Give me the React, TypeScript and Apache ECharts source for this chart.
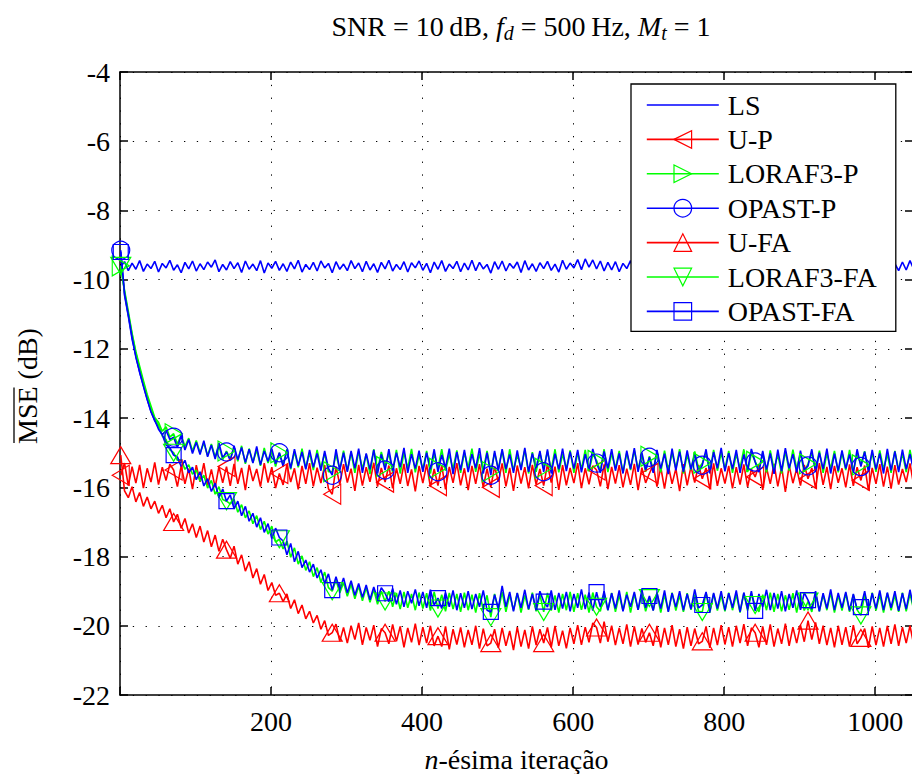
import React, { useEffect, useRef } from "react";
import * as echarts from "echarts";

// iteration index of the i-th stored sample: ITER_START + ITER_STEP * i
const ITER_START = 1;
const ITER_STEP = 5;
const MARKER_EVERY = 14; // a marker every 70 iterations
const X_TICKS_MAX_LABEL = 1000;

const LS = [
  -9.62, -9.48, -9.74, -9.52, -9.70, -9.45, -9.76, -9.55, -9.68, -9.47,
  -9.78, -9.53, -9.66, -9.44, -9.73, -9.57, -9.80, -9.50, -9.69, -9.46,
  -9.75, -9.54, -9.71, -9.49, -9.64, -9.43, -9.77, -9.56, -9.72, -9.48,
  -9.68, -9.51, -9.79, -9.46, -9.70, -9.55, -9.74, -9.45, -9.81, -9.52,
  -9.67, -9.47, -9.73, -9.54, -9.76, -9.49, -9.69, -9.44, -9.78, -9.56,
  -9.71, -9.50, -9.75, -9.46, -9.66, -9.53, -9.80, -9.48, -9.70, -9.55,
  -9.74, -9.45, -9.68, -9.52, -9.77, -9.47, -9.72, -9.54, -9.79, -9.50,
  -9.69, -9.44, -9.75, -9.56, -9.71, -9.48, -9.78, -9.51, -9.66, -9.46,
  -9.73, -9.53, -9.80, -9.49, -9.70, -9.45, -9.76, -9.55, -9.68, -9.47,
  -9.77, -9.52, -9.72, -9.44, -9.74, -9.50, -9.69, -9.56, -9.81, -9.48,
  -9.70, -9.46, -9.75, -9.53, -9.67, -9.49, -9.79, -9.45, -9.72, -9.54,
  -9.76, -9.51, -9.68, -9.47, -9.73, -9.55, -9.78, -9.44, -9.70, -9.52,
  -9.66, -9.42, -9.71, -9.40, -9.64, -9.43, -9.69, -9.46, -9.75, -9.50,
  -9.72, -9.48, -9.77, -9.53, -9.68, -9.45, -9.80, -9.51, -9.71, -9.47,
  -9.74, -9.55, -9.69, -9.46, -9.78, -9.50, -9.73, -9.44, -9.67, -9.53,
  -9.79, -9.49, -9.72, -9.45, -9.75, -9.54, -9.70, -9.47, -9.76, -9.52,
  -9.68, -9.44, -9.81, -9.50, -9.73, -9.48, -9.69, -9.55, -9.77, -9.46,
  -9.71, -9.53, -9.75, -9.45, -9.70, -9.51, -9.78, -9.47, -9.66, -9.54,
  -9.74, -9.49, -9.79, -9.46, -9.72, -9.52, -9.68, -9.44, -9.76, -9.50,
  -9.70, -9.55, -9.73, -9.47, -9.80, -9.51, -9.69, -9.45, -9.75, -9.53,
  -9.71, -9.48, -9.77, -9.46, -9.68, -9.54, -9.74, -9.49, -9.72, -9.45, -9.70,
];

const U_P = [
  -15.65, -15.30, -15.95, -15.40, -15.88, -15.35, -16.02, -15.45, -15.85, -15.28,
  -15.92, -15.42, -15.80, -15.33, -15.50, -15.98, -15.38, -15.90, -15.46, -16.05,
  -15.36, -15.84, -15.30, -15.95, -15.48, -16.00, -15.40, -15.87, -15.40, -15.96,
  -15.32, -15.90, -15.44, -16.08, -15.35, -15.82, -15.47, -15.98, -15.30, -15.86,
  -15.42, -16.02, -15.60, -15.93, -15.34, -15.85, -15.45, -16.06, -15.38, -15.90,
  -15.30, -15.97, -15.43, -15.88, -15.36, -16.04, -16.20, -15.40, -15.92, -15.33,
  -15.86, -15.46, -16.10, -15.35, -15.95, -15.42, -15.84, -15.29, -15.98, -15.44,
  -15.85, -15.37, -16.03, -15.45, -15.90, -15.32, -15.96, -15.48, -16.12, -15.38,
  -15.88, -15.34, -15.99, -15.47, -15.95, -15.36, -16.06, -15.41, -15.87, -15.30,
  -15.94, -15.45, -16.08, -15.38, -15.90, -15.33, -16.00, -15.46, -16.00, -15.40,
  -15.84, -15.31, -15.97, -15.44, -16.10, -15.37, -15.89, -15.42, -16.03, -15.35,
  -15.92, -15.47, -15.95, -15.33, -15.86, -15.40, -16.07, -15.36, -15.94, -15.44,
  -15.88, -15.30, -16.02, -15.45, -15.91, -15.38, -15.50, -15.97, -15.34, -16.05,
  -15.41, -15.89, -15.36, -16.00, -15.46, -15.93, -15.32, -16.08, -15.43, -15.87,
  -15.60, -15.35, -15.98, -15.42, -16.04, -15.37, -15.90, -15.46, -16.11, -15.33,
  -15.94, -15.40, -15.86, -15.35, -15.75, -15.44, -16.06, -15.31, -15.96, -15.45,
  -15.89, -15.38, -16.03, -15.42, -15.92, -15.34, -15.99, -15.47, -15.70, -15.36,
  -16.07, -15.43, -15.90, -15.32, -15.97, -15.40, -16.13, -15.37, -15.88, -15.46,
  -15.95, -15.35, -15.75, -15.44, -16.02, -15.30, -15.93, -15.41, -16.05, -15.38,
  -15.87, -15.45, -16.00, -15.34, -15.96, -15.42, -15.80, -15.37, -16.09, -15.44,
  -15.90, -15.33, -15.98, -15.40, -16.04, -15.36, -15.92, -15.47, -15.85, -15.31, -15.95,
];

const LORAF3_P = [
  -9.60, -10.30, -10.92, -11.55, -12.08, -12.50, -12.92, -13.32, -13.65, -13.98,
  -14.12, -14.38, -14.25, -14.55, -14.45, -14.75, -14.48, -14.82, -14.58, -14.95,
  -14.65, -15.00, -14.72, -15.08, -14.75, -15.12, -14.80, -15.20, -14.95, -15.18,
  -14.85, -15.25, -14.80, -15.32, -14.88, -15.28, -14.92, -15.38, -14.86, -15.30,
  -14.95, -15.40, -15.00, -15.35, -14.90, -15.48, -14.96, -15.42, -14.88, -15.45,
  -15.00, -15.50, -14.92, -15.45, -15.02, -15.55, -15.55, -15.05, -15.48, -14.94,
  -15.52, -15.00, -15.58, -14.96, -15.46, -15.04, -15.62, -14.90, -15.50, -14.98,
  -15.40, -15.02, -15.55, -14.92, -15.60, -15.00, -15.45, -14.89, -15.57, -15.06,
  -15.48, -14.95, -15.60, -15.02, -15.45, -14.90, -15.52, -15.05, -15.47, -14.93,
  -15.58, -15.00, -15.44, -14.88, -15.55, -15.04, -15.50, -14.95, -15.55, -15.01,
  -15.46, -14.94, -15.58, -14.90, -15.52, -15.06, -15.45, -14.92, -15.60, -14.98,
  -15.55, -15.02, -15.45, -14.96, -15.50, -14.90, -15.57, -15.04, -15.46, -14.93,
  -15.58, -15.00, -15.48, -14.92, -15.54, -15.05, -15.22, -15.52, -14.90, -15.56,
  -15.02, -15.45, -14.95, -15.58, -15.00, -15.50, -14.93, -15.47, -15.06, -15.55,
  -15.10, -15.48, -15.03, -15.57, -14.94, -15.52, -15.00, -15.45, -14.90, -15.60,
  -15.05, -15.50, -14.96, -15.46, -15.30, -15.02, -15.55, -14.92, -15.52, -15.00,
  -15.47, -14.95, -15.58, -15.04, -15.45, -14.90, -15.56, -15.01, -15.25, -15.50,
  -15.00, -15.57, -14.93, -15.48, -15.05, -15.60, -14.96, -15.52, -14.91, -15.46,
  -15.03, -15.55, -15.32, -15.00, -15.50, -14.94, -15.58, -15.02, -15.46, -14.95,
  -15.57, -15.00, -15.50, -14.92, -15.54, -15.04, -15.35, -14.96, -15.48, -15.00,
  -15.55, -14.93, -15.47, -15.05, -15.58, -14.95, -15.50, -15.02, -15.56, -14.92, -15.48,
];

const OPAST_P = [
  -9.15, -10.45, -11.05, -11.72, -12.20, -12.68, -13.05, -13.45, -13.80, -14.08,
  -14.25, -14.48, -14.35, -14.62, -14.55, -14.85, -14.50, -14.92, -14.62, -15.02,
  -14.70, -15.05, -14.65, -15.12, -14.78, -15.18, -14.72, -15.15, -14.98, -15.22,
  -14.80, -15.20, -14.85, -15.28, -14.90, -15.30, -14.82, -15.35, -14.95, -15.25,
  -14.88, -15.32, -15.00, -15.40, -14.92, -15.45, -14.90, -15.38, -14.98, -15.48,
  -14.92, -15.42, -15.02, -15.52, -14.95, -15.45, -15.65, -14.90, -15.50, -15.00,
  -15.55, -14.95, -15.45, -14.88, -15.58, -15.02, -15.48, -14.92, -15.60, -15.05,
  -15.50, -14.90, -15.52, -15.00, -15.42, -14.86, -15.58, -15.04, -15.46, -14.94,
  -15.55, -15.00, -15.48, -14.90, -15.55, -15.06, -15.44, -14.88, -15.62, -14.98,
  -15.50, -14.92, -15.56, -15.04, -15.45, -14.87, -15.60, -15.00, -15.65, -14.95,
  -15.52, -14.90, -15.47, -15.05, -15.58, -14.93, -15.50, -14.86, -15.55, -15.02,
  -15.44, -14.95, -15.55, -14.90, -15.60, -15.03, -15.48, -14.88, -15.53, -14.97,
  -15.46, -14.92, -15.57, -15.04, -15.50, -14.89, -15.30, -15.58, -14.96, -15.45,
  -14.90, -15.52, -15.02, -15.60, -14.94, -15.47, -14.87, -15.55, -15.00, -15.50,
  -15.13, -15.58, -14.92, -15.46, -15.03, -15.62, -14.88, -15.51, -14.97, -15.55,
  -14.93, -15.48, -15.04, -15.57, -15.36, -14.90, -15.60, -14.98, -15.45, -14.86,
  -15.54, -15.01, -15.47, -14.92, -15.58, -15.05, -15.50, -14.89, -15.27, -15.56,
  -14.95, -15.49, -15.02, -15.61, -14.91, -15.53, -14.87, -15.45, -15.04, -15.57,
  -14.94, -15.50, -15.38, -14.90, -15.56, -15.00, -15.47, -14.88, -15.60, -15.03,
  -15.52, -14.93, -15.46, -15.05, -15.58, -14.90, -15.40, -14.97, -15.55, -14.92,
  -15.48, -15.02, -15.60, -14.89, -15.51, -14.96, -15.56, -14.91, -15.47, -15.04, -15.53,
];

const U_FA = [
  -15.07, -16.10, -16.30, -15.98, -16.42, -16.15, -16.55, -16.28, -16.62, -16.40,
  -16.75, -16.52, -16.88, -16.62, -17.00, -16.78, -17.18, -16.90, -17.32, -17.05,
  -17.45, -17.12, -17.58, -17.25, -17.72, -17.38, -17.85, -17.50, -17.80, -18.05,
  -17.70, -18.22, -17.95, -18.42, -18.15, -18.62, -18.35, -18.80, -18.52, -18.98,
  -18.75, -19.12, -19.06, -19.30, -19.08, -19.50, -19.25, -19.65, -19.40, -19.80,
  -19.58, -19.92, -19.70, -20.10, -19.85, -20.28, -20.20, -19.95, -20.45, -20.05,
  -20.50, -20.00, -20.40, -19.92, -20.55, -20.05, -20.42, -19.98, -20.60, -20.08,
  -20.20, -20.52, -19.96, -20.45, -20.02, -20.62, -20.06, -20.48, -19.94, -20.56,
  -20.04, -20.50, -20.00, -20.58, -20.30, -20.60, -20.02, -20.68, -20.10, -20.54,
  -20.05, -20.62, -20.12, -20.55, -20.00, -20.66, -20.08, -20.58, -20.50, -20.10,
  -20.64, -20.06, -20.58, -20.15, -20.70, -20.04, -20.60, -20.12, -20.66, -20.02,
  -20.56, -20.10, -20.50, -20.05, -20.62, -20.00, -20.58, -20.14, -20.65, -20.06,
  -20.52, -19.98, -20.55, -20.04, -20.48, -19.92, -20.05, -20.50, -19.88, -20.46,
  -20.00, -20.56, -20.06, -20.52, -19.96, -20.60, -20.02, -20.54, -20.08, -20.48,
  -20.20, -20.58, -20.00, -20.62, -20.06, -20.55, -19.98, -20.60, -20.10, -20.66,
  -20.04, -20.58, -20.08, -20.52, -20.45, -20.02, -20.64, -20.06, -20.56, -19.98,
  -20.54, -20.04, -20.60, -20.00, -20.50, -19.95, -20.58, -20.06, -20.20, -20.62,
  -20.02, -20.55, -19.96, -20.60, -20.08, -20.52, -19.94, -20.58, -20.04, -20.50,
  -19.98, -20.46, -19.85, -20.40, -19.90, -20.52, -20.00, -20.56, -20.06, -20.62,
  -20.00, -20.55, -20.04, -20.60, -19.98, -20.52, -20.35, -20.08, -20.64, -20.02,
  -20.56, -20.06, -20.60, -20.00, -20.52, -19.96, -20.58, -20.04, -20.50, -20.00, -20.55,
];

const LORAF3_FA = [
  -9.60, -10.35, -10.98, -11.58, -12.12, -12.58, -12.98, -13.38, -13.72, -14.02,
  -14.20, -14.52, -14.62, -14.92, -15.00, -15.22, -15.20, -15.48, -15.35, -15.62,
  -15.50, -15.82, -15.65, -16.02, -15.80, -16.20, -15.98, -16.35, -16.40, -16.48,
  -16.35, -16.72, -16.50, -16.88, -16.68, -17.05, -16.82, -17.22, -16.98, -17.35,
  -17.12, -17.58, -17.50, -17.78, -17.55, -18.02, -17.75, -18.22, -17.98, -18.40,
  -18.15, -18.58, -18.32, -18.75, -18.45, -18.90, -19.00, -18.68, -19.05, -18.75,
  -19.15, -18.80, -19.22, -18.85, -19.28, -18.90, -19.32, -18.95, -19.38, -19.00,
  -19.30, -19.00, -19.45, -19.05, -19.52, -19.02, -19.48, -19.08, -19.55, -19.04,
  -19.50, -19.06, -19.56, -19.02, -19.50, -19.10, -19.58, -19.05, -19.52, -19.08,
  -19.60, -19.04, -19.55, -19.10, -19.62, -19.06, -19.54, -19.12, -19.75, -19.08,
  -19.56, -19.02, -19.60, -19.10, -19.55, -19.06, -19.62, -19.12, -19.54, -19.04,
  -19.58, -19.10, -19.60, -19.05, -19.56, -19.12, -19.62, -19.08, -19.55, -19.02,
  -19.60, -19.06, -19.54, -19.10, -19.62, -19.04, -19.45, -19.58, -19.08, -19.55,
  -19.05, -19.60, -19.12, -19.56, -19.02, -19.62, -19.08, -19.54, -19.10, -19.58,
  -19.20, -19.55, -19.06, -19.62, -19.10, -19.58, -19.04, -19.56, -19.12, -19.60,
  -19.06, -19.54, -19.10, -19.58, -19.60, -19.05, -19.62, -19.08, -19.56, -19.12,
  -19.58, -19.04, -19.55, -19.10, -19.62, -19.06, -19.56, -19.08, -19.40, -19.60,
  -19.10, -19.55, -19.04, -19.60, -19.08, -19.58, -19.12, -19.54, -19.06, -19.62,
  -19.08, -19.56, -19.30, -19.60, -19.05, -19.58, -19.10, -19.55, -19.04, -19.62,
  -19.12, -19.56, -19.06, -19.60, -19.10, -19.54, -19.70, -19.08, -19.58, -19.04,
  -19.56, -19.10, -19.62, -19.06, -19.55, -19.12, -19.60, -19.04, -19.58, -19.08, -19.54,
];

const OPAST_FA = [
  -9.20, -10.40, -11.02, -11.66, -12.24, -12.66, -13.08, -13.46, -13.82, -14.06,
  -14.32, -14.48, -14.78, -14.85, -15.07, -15.12, -15.40, -15.22, -15.58, -15.42,
  -15.78, -15.55, -15.96, -15.75, -16.12, -15.88, -16.30, -16.05, -16.40, -16.22,
  -16.62, -16.40, -16.82, -16.55, -16.98, -16.75, -17.15, -16.88, -17.30, -17.05,
  -17.48, -17.18, -17.45, -17.55, -17.95, -17.62, -18.15, -17.85, -18.32, -18.10,
  -18.45, -18.22, -18.62, -18.38, -18.78, -18.50, -18.97, -18.58, -18.95, -18.62,
  -19.05, -18.70, -19.12, -18.78, -19.18, -18.82, -19.25, -18.88, -19.22, -18.90,
  -19.06, -19.30, -18.92, -19.38, -18.98, -19.45, -19.00, -19.35, -18.95, -19.42,
  -19.02, -19.48, -18.96, -19.40, -19.20, -19.50, -19.04, -19.45, -18.98, -19.55,
  -19.06, -19.48, -19.00, -19.52, -19.08, -19.45, -18.98, -19.55, -19.60, -19.10,
  -19.50, -18.85, -19.45, -19.02, -19.58, -19.05, -19.48, -18.96, -19.52, -19.08,
  -19.55, -19.00, -19.30, -19.46, -18.98, -19.54, -19.05, -19.50, -19.02, -19.58,
  -19.08, -19.48, -18.95, -19.52, -19.04, -19.56, -19.03, -19.46, -19.00, -19.55,
  -19.06, -19.50, -18.98, -19.58, -19.10, -19.45, -19.02, -19.54, -18.96, -19.48,
  -19.14, -19.56, -19.04, -19.50, -18.98, -19.60, -19.06, -19.46, -19.00, -19.55,
  -19.08, -19.52, -18.95, -19.48, -19.40, -19.02, -19.58, -19.05, -19.50, -19.00,
  -19.55, -19.06, -19.48, -18.98, -19.60, -19.04, -19.52, -19.00, -19.57, -19.08,
  -19.46, -18.96, -19.55, -19.05, -19.50, -19.00, -19.58, -19.08, -19.48, -18.98,
  -19.54, -19.04, -19.26, -19.52, -19.00, -19.58, -19.06, -19.50, -18.95, -19.55,
  -19.05, -19.48, -19.02, -19.56, -19.08, -19.52, -19.46, -19.00, -19.58, -19.06,
  -19.50, -18.98, -19.55, -19.04, -19.48, -19.00, -19.57, -19.06, -19.52, -18.96, -19.50,
];

const SERIES_NAMES = ["LS", "U-P", "LORAF3-P", "OPAST-P", "U-FA", "LORAF3-FA", "OPAST-FA"];
const SERIES_VALUES = [LS, U_P, LORAF3_P, OPAST_P, U_FA, LORAF3_FA, OPAST_FA];
const SERIES_COLORS = ["#0000ff", "#ff0000", "#00ff00", "#0000ff", "#ff0000", "#00ff00", "#0000ff"];
const SERIES_SYMBOLS = [
  "none",
  "path://M0,5L10,0L10,10Z",
  "path://M10,5L0,0L0,10Z",
  "circle",
  "triangle",
  "path://M0,0L10,0L5,10Z",
  "rect",
];
const SERIES_SYMBOL_SIZES: any[] = [0, [17, 20], [17, 20], 18, [20, 17], [20, 17], 15];

const FONT = "Liberation Serif";

export default function App() {
  const ref = useRef<HTMLDivElement>(null);

  useEffect(() => {
    if (!ref.current) return;
    const chart = echarts.init(ref.current, null, { renderer: "svg" });

    const ctx = document.createElement("canvas").getContext("2d") as CanvasRenderingContext2D;
    ctx.font = `28px ${FONT}`;
    const wAll = ctx.measureText("MSE (dB)").width;
    const wMSE = ctx.measureText("MSE").width;
    const wLegend = Math.max(...SERIES_NAMES.map((n) => ctx.measureText(n).width));
    const legendPadRight = Math.max(4, 895 - (631 + 15 + 72 + 5 + 4 + wLegend));

    const series = SERIES_NAMES.map((name, s) => {
      const vals = SERIES_VALUES[s];
      const sym = SERIES_SYMBOLS[s];
      const color = SERIES_COLORS[s];
      const data = vals.map((v, i) => {
        const x = ITER_START + ITER_STEP * i;
        if (sym !== "none" && i % MARKER_EVERY === 0) return [x, v];
        return { value: [x, v], symbol: "none" };
      });
      return {
        type: "line",
        name,
        data,
        symbol: sym,
        symbolSize: SERIES_SYMBOL_SIZES[s],
        showSymbol: true,
        showAllSymbol: true,
        lineStyle: { color, width: 1.6 },
        itemStyle: { color: "rgba(0,0,0,0)", borderColor: color, borderWidth: sym === "none" ? 0 : 1.2 },
        emphasis: { disabled: true },
        silent: true,
        clip: true,
        z: 2,
      };
    });

    const axisLine = { show: true, onZero: false, lineStyle: { color: "#000", width: 1.5 } };
    const axisTick = { show: true, inside: true, length: 8, lineStyle: { color: "#000", width: 1.5 } };
    const splitLine = { show: true, lineStyle: { type: [1.3, 11.5], color: "#000", width: 1 } };

    chart.setOption({
      animation: false,
      backgroundColor: "#fff",
      title: {
        text: "{r|SNR = 10\u2009dB, }{i|f}{s|d}{r| = 500\u2009Hz, }{i|M}{s|t}{r| = 1}",
        left: 516,
        top: 4,
        textAlign: "center",
        textStyle: {
          fontFamily: FONT,
          fontSize: 28,
          fontWeight: "normal",
          color: "#000",
          rich: {
            r: { fontFamily: FONT, fontSize: 28, color: "#000" },
            i: { fontFamily: FONT, fontSize: 28, fontStyle: "italic", color: "#000" },
            s: { fontFamily: FONT, fontSize: 20, fontStyle: "italic", color: "#000", padding: [14, 0, 0, 0] },
          },
        },
      },
      grid: { left: 120, top: 72, width: 793, height: 623, containLabel: false, outerBoundsMode: "none" },
      xAxis: [
        {
          type: "value",
          position: "bottom",
          min: 0,
          max: 1050,
          interval: 200,
          axisLine,
          axisTick,
          splitLine,
          axisLabel: {
            fontFamily: FONT,
            fontSize: 28,
            color: "#000",
            margin: 12,
            showMaxLabel: false,
            formatter: (v: number) => (v === 0 || v > X_TICKS_MAX_LABEL ? "" : String(v)),
          },
          name: "{i|n}-ésima iteração",
          nameLocation: "middle",
          nameGap: 50,
          nameTextStyle: {
            fontFamily: FONT,
            fontSize: 28,
            color: "#000",
            rich: { i: { fontFamily: FONT, fontSize: 28, fontStyle: "italic", color: "#000" } },
          },
        },
        {
          type: "value",
          position: "top",
          min: 0,
          max: 1050,
          interval: 200,
          axisLine,
          axisTick,
          splitLine: { show: false },
          axisLabel: { show: false },
        },
      ],
      yAxis: [
        {
          type: "value",
          position: "left",
          min: -22,
          max: -4,
          interval: 2,
          axisLine,
          axisTick,
          splitLine,
          axisLabel: { fontFamily: FONT, fontSize: 28, color: "#000", margin: 10 },
        },
        {
          type: "value",
          position: "right",
          min: -22,
          max: -4,
          interval: 2,
          axisLine,
          axisTick,
          splitLine: { show: false },
          axisLabel: { show: false },
        },
      ],
      legend: {
        show: true,
        orient: "vertical",
        left: 631,
        top: 84,
        data: [{ name: "LS", itemStyle: { borderWidth: 0 } }, ...SERIES_NAMES.slice(1)],
        itemWidth: 72,
        itemHeight: 22,
        itemGap: 6.4,
        padding: [7, legendPadRight, 6, 15],
        backgroundColor: "#fff",
        borderColor: "#000",
        borderWidth: 1.3,
        borderRadius: 0,
        selectedMode: false,
        itemStyle: { borderWidth: 1.2 },
        lineStyle: { width: 1.6 },
        textStyle: { fontFamily: FONT, fontSize: 28, color: "#000", padding: [0, 0, 0, 4] },
      },
      graphic: [
        {
          type: "group",
          x: 27,
          y: 386,
          rotation: Math.PI / 2,
          children: [
            {
              type: "text",
              x: 0,
              y: 0,
              style: {
                text: "MSE (dB)",
                font: `28px ${FONT}`,
                fill: "#000",
                textAlign: "center",
                textVerticalAlign: "middle",
              },
            },
            {
              type: "line",
              shape: { x1: -wAll / 2 + 1, y1: -13, x2: -wAll / 2 + wMSE - 1, y2: -13 },
              style: { stroke: "#000", lineWidth: 1.3 },
            },
          ],
        },
      ],
      series,
    });

    return () => chart.dispose();
  }, []);

  return (
    <div
      ref={ref}
      style={{ position: "fixed", left: 0, top: 0, width: 912, height: 774, background: "#fff" }}
    />
  );
}
